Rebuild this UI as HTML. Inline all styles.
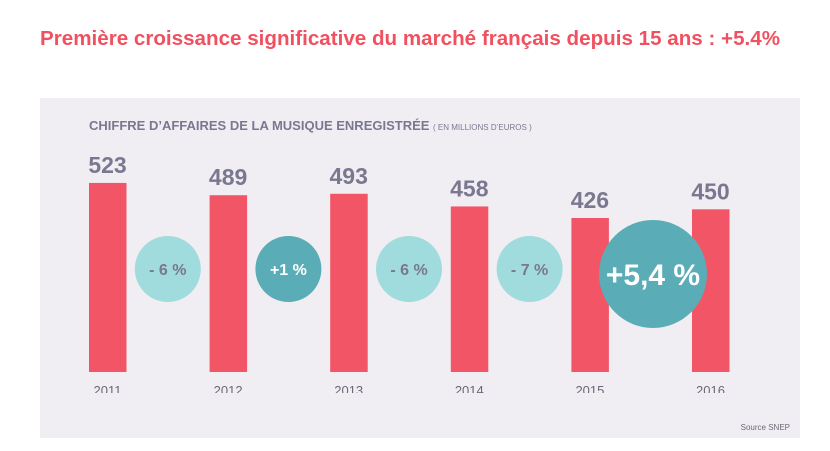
<!DOCTYPE html>
<html><head><meta charset="utf-8"><style>
body{margin:0;width:830px;height:451px;background:#fff;font-family:"Liberation Sans",sans-serif;overflow:hidden;position:relative}
</style></head><body>
<div style="position:absolute;left:40px;top:27px;font-size:20.6px;font-weight:bold;color:#f0505f;white-space:nowrap">Première croissance significative du marché français depuis 15 ans : +5.4%</div>
<svg width="830" height="451" style="position:absolute;left:0;top:0">
<defs><clipPath id="c"><rect x="40" y="98" width="760" height="295"/></clipPath></defs>
<rect x="40" y="98" width="760" height="340" fill="#f0eef3"/>
<text x="89" y="130" font-size="13" font-weight="bold" fill="#7a7890">CHIFFRE D’AFFAIRES DE LA MUSIQUE ENREGISTRÉE <tspan font-size="8" font-weight="normal">( EN MILLIONS D’EUROS )</tspan></text>
<g id="bars"></g>
<g id="circles"></g>
<text x="790" y="430" font-size="8" text-anchor="end" fill="#6a6878">Source SNEP</text>
</svg>
<script>
const years=["2011","2012","2013","2014","2015","2016"];
const values=[523,489,493,458,426,450];
const changes=["- 6 %","+1 %","- 6 %","- 7 %","+5,4 %"];
const ns="http://www.w3.org/2000/svg";
const base=372, k=0.3615;
function xBar(i){return 89+i*120.6;}
function yVal(v){return base-v*k;}
const bars=document.getElementById('bars');
const circ=document.getElementById('circles');
function mk(tag,attrs,parent){const e=document.createElementNS(ns,tag);for(const a in attrs)e.setAttribute(a,attrs[a]);parent.appendChild(e);return e;}
values.forEach((v,i)=>{
  const x=xBar(i);
  const r=mk('rect',{x:x,y:yVal(v),width:37.5,height:base-yVal(v),fill:'#f25565'},bars);
  
  
  const t=mk('text',{x:x+18.5,y:yVal(v)-10,'font-size':23,'font-weight':'bold',fill:'#7a7890','text-anchor':'middle'},bars);
  t.textContent=v;
  
  
  const y=mk('text',{x:x+18.5,y:395,'font-size':13,fill:'#6a6878','text-anchor':'middle','clip-path':'url(#c)'},bars);
  y.textContent=years[i];
  
  
});
changes.forEach((c,i)=>{
  const last=i===changes.length-1;
  const pos=c.indexOf('+')===0;
  const cx=last?653:(xBar(i)+xBar(i+1))/2+18.5;
  const cy=last?274:269;
  const g=mk('g',{},circ);
  
  
  mk('circle',{cx:cx,cy:cy,r:last?54:33,fill:pos?'#5aadb6':'#a0dcdd'},g);
  const t=mk('text',{x:cx,y:cy+(last?11:6),'font-size':last?30:16,'font-weight':'bold',fill:pos?'#fff':'#7a7890','text-anchor':'middle'},g);
  t.textContent=c;
});
</script>
</body></html>
